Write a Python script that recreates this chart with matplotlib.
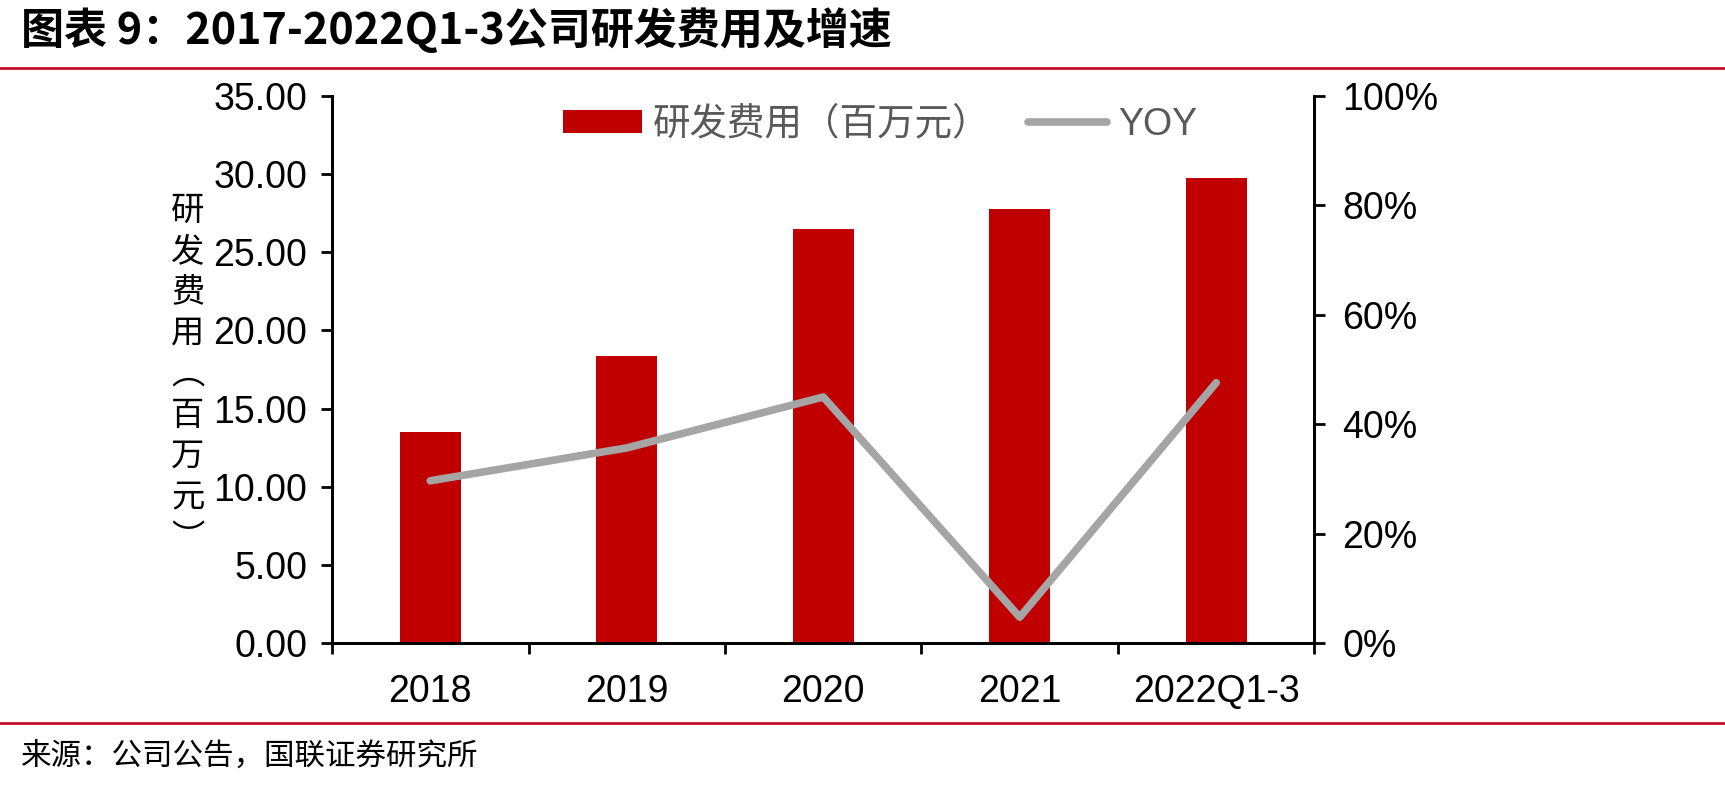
import matplotlib.pyplot as plt
import numpy as np
from matplotlib.ticker import FixedLocator, FuncFormatter

plt.rcParams["font.family"] = ["Liberation Sans", "Noto Sans CJK SC", "DejaVu Sans"]

categories = ["2018", "2019", "2020", "2021", "2022Q1-3"]
rd_expense = [13.49, 18.34, 26.50, 27.76, 29.73]
yoy = [0.297, 0.357, 0.450, 0.048, 0.476]

bar_color = "#C00000"
line_color = "#A5A5A5"
rule_color = "#C8102E"
cjk = ["Noto Sans CJK SC", "DejaVu Sans"]

fig = plt.figure(figsize=(17.25, 7.88), dpi=100)
ax = fig.add_axes([0.1925, 0.1834, 0.5695, 0.6952])
ax2 = ax.twinx()

x = np.arange(len(categories))
bars = ax.bar(x, rd_expense, width=0.31, color=bar_color, label="研发费用（百万元）", zorder=2)
line, = ax2.plot(x, yoy, color=line_color, lw=5.5, solid_capstyle="round", label="YOY", zorder=3)

ax.set_xlim(-0.5, len(categories) - 0.5)
ax.set_ylim(0, 35)
ax.set_yticks(np.arange(0, 35.1, 5))
ax.yaxis.set_major_formatter(FuncFormatter(lambda v, p: f"{v:.2f}"))
ax2.set_ylim(0, 1.0)
ax2.set_yticks(np.arange(0, 1.01, 0.2))
ax2.yaxis.set_major_formatter(FuncFormatter(lambda v, p: f"{v*100:.0f}%"))

ax.set_xticks(x)
ax.set_xticklabels(categories)
ax.tick_params(axis="x", which="major", length=0, pad=22, labelsize=27)
ax.xaxis.set_minor_locator(FixedLocator(np.arange(-0.5, len(categories), 1.0)))
ax.tick_params(axis="x", which="minor", length=8, width=2, direction="out")
ax.tick_params(axis="y", length=8, width=2, direction="out", labelsize=27, pad=10)
ax2.tick_params(axis="y", length=8, width=2, direction="out", labelsize=27, pad=12)

for a in (ax, ax2):
    a.spines["top"].set_visible(False)
    for s in ("left", "right", "bottom"):
        a.spines[s].set_linewidth(2)

ax.set_zorder(ax2.get_zorder() - 1)
ax.patch.set_visible(False)

fig.text(0.109, 0.525, "研\n发\n费\n用\n︵\n百\n万\n元\n︶", family=cjk, fontsize=24,
         ha="center", va="center", linespacing=1.22)

leg = ax2.legend([bars, line], ["研发费用（百万元）", "YOY"], loc="upper center",
                 bbox_to_anchor=(0.558, 1.045), ncol=2, frameon=False, fontsize=27,
                 handlelength=2.1, handleheight=0.55, columnspacing=1.0, handletextpad=0.3)
for t in leg.get_texts():
    t.set_color("#595959")
leg.get_texts()[0].set_family(cjk)

fig.text(0.012, 0.962, "图表 9：2017-2022Q1-3公司研发费用及增速", family=cjk,
         fontsize=31, fontweight="bold", style="italic", ha="left", va="center")
fig.add_artist(plt.Line2D([0, 1], [0.914, 0.914], color=rule_color, lw=2))
fig.add_artist(plt.Line2D([0, 1], [0.083, 0.083], color=rule_color, lw=2))
fig.text(0.012, 0.04, "来源：公司公告，国联证券研究所", family=cjk, fontsize=22,
         ha="left", va="center")

fig.savefig("out.png", dpi=100)
